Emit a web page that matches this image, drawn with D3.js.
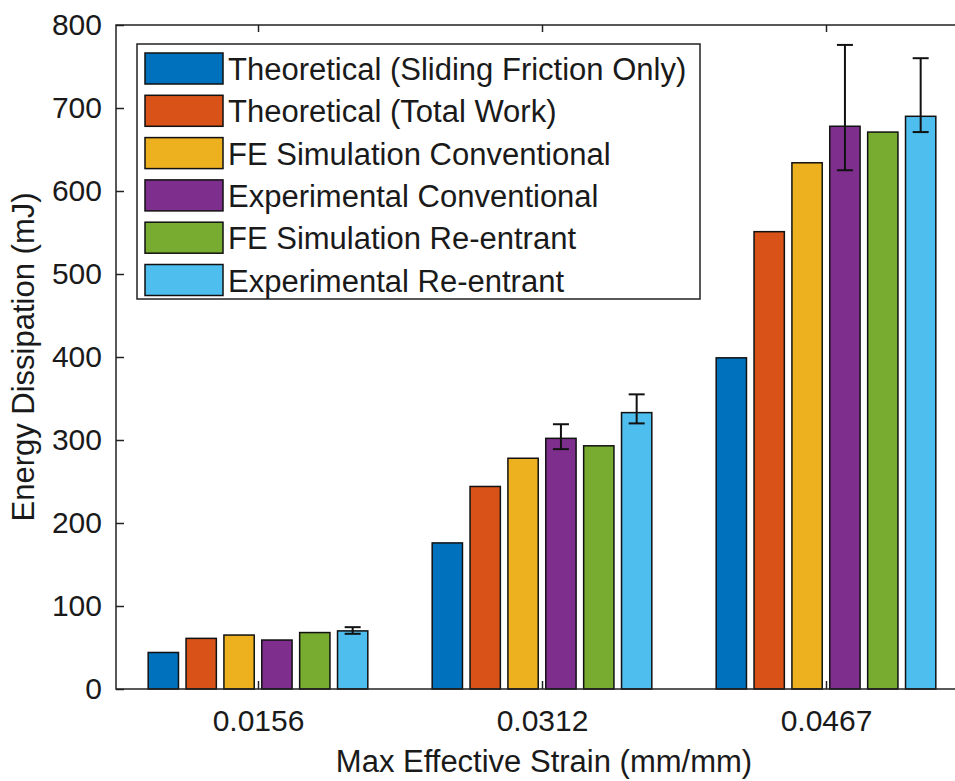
<!DOCTYPE html>
<html>
<head>
<meta charset="utf-8">
<script src="https://cdn.jsdelivr.net/npm/d3@7"></script>
<style>
  html, body { margin: 0; padding: 0; background: #fff; }
  svg { display: block; font-family: "Liberation Sans", Arial, Helvetica, sans-serif; }
</style>
</head>
<body>
<div id="chart-area"><svg></svg></div>
<script>
const strains = ["0.0156", "0.0312", "0.0467"];
const seriesNames = [
  "Theoretical (Sliding Friction Only)",
  "Theoretical (Total Work)",
  "FE Simulation Conventional",
  "Experimental Conventional",
  "FE Simulation Re-entrant",
  "Experimental Re-entrant"
];
const seriesColors = ["#0072BD", "#D95319", "#EDB120", "#7E2F8E", "#77AC30", "#4DBEEE"];

const theoreticalFriction = [44, 176, 399];
const theoreticalTotal = [61, 244, 551];
const feConventional = [65, 278, 634];
const expConventional = [59, 302, 678];
const feReentrant = [68, 293, 671];
const expReentrant = [70, 333, 690];

// error bars (minus / plus) for the experimental series
const expConventionalErrLow = [0, 13, 53];
const expConventionalErrHigh = [0, 17, 98];
const expReentrantErrLow = [3.5, 13, 19];
const expReentrantErrHigh = [4.5, 22, 70];

const yTicks = [0, 100, 200, 300, 400, 500, 600, 700, 800];

const chartSize = { width: 955, height: 781 };
const plot = { left: 116, right: 968, top: 25, bottom: 689 };

const seriesValues = [theoreticalFriction, theoreticalTotal, feConventional, expConventional, feReentrant, expReentrant];
const errors = {
  3: { low: expConventionalErrLow, high: expConventionalErrHigh },
  5: { low: expReentrantErrLow, high: expReentrantErrHigh }
};

const svg = d3.select("#chart-area svg")
  .attr("width", chartSize.width)
  .attr("height", chartSize.height);

const x = d3.scaleLinear().domain([0.5, 3.5]).range([plot.left, plot.right]);
const unit = x(1) - x(0);
const inner = d3.scaleBand()
  .domain(d3.range(seriesNames.length))
  .range([-0.4 * unit, 0.4 * unit])
  .paddingInner(0.2)
  .paddingOuter(0.1);
const y = d3.scaleLinear().domain([0, 800]).range([plot.bottom, plot.top]);

// bars
const bars = [];
seriesValues.forEach((vals, s) => {
  vals.forEach((v, g) => bars.push({ s, g, v }));
});

svg.append("g").attr("class", "bars")
  .selectAll("rect")
  .data(bars)
  .enter()
  .append("rect")
  .attr("x", d => x(d.g + 1) + inner(d.s))
  .attr("y", d => y(d.v))
  .attr("width", inner.bandwidth())
  .attr("height", d => y(0) - y(d.v))
  .attr("fill", d => seriesColors[d.s])
  .attr("stroke", "#111")
  .attr("stroke-width", 1.5);

// error bars
const errData = [];
Object.keys(errors).forEach(k => {
  const s = +k;
  seriesValues[s].forEach((v, g) => {
    if (errors[s].low[g] || errors[s].high[g])
      errData.push({ s, g, lo: v - errors[s].low[g], hi: v + errors[s].high[g] });
  });
});
const eg = svg.append("g").attr("class", "errors")
  .attr("stroke", "#111").attr("stroke-width", 2).attr("fill", "none");
const cx = d => x(d.g + 1) + inner(d.s) + inner.bandwidth() / 2;
eg.selectAll(".stem").data(errData).enter().append("line")
  .attr("x1", cx).attr("x2", cx)
  .attr("y1", d => y(d.lo)).attr("y2", d => y(d.hi));
eg.selectAll(".capHi").data(errData).enter().append("line")
  .attr("x1", d => cx(d) - 8).attr("x2", d => cx(d) + 8)
  .attr("y1", d => y(d.hi)).attr("y2", d => y(d.hi));
eg.selectAll(".capLo").data(errData).enter().append("line")
  .attr("x1", d => cx(d) - 8).attr("x2", d => cx(d) + 8)
  .attr("y1", d => y(d.lo)).attr("y2", d => y(d.lo));

// axes
const xTickPos = strains.map((s, i) => i + 1);
const yAxis = d3.axisLeft(y).tickValues(yTicks).tickSize(-8).tickPadding(14);
const xAxis = d3.axisBottom(x).tickValues(xTickPos).tickFormat((d, i) => strains[i]).tickSize(-8).tickPadding(21);
const xTop = d3.axisTop(x).tickValues(xTickPos).tickFormat("").tickSize(-7);

const gy = svg.append("g").attr("transform", `translate(${plot.left},0)`).call(yAxis);
const gx = svg.append("g").attr("transform", `translate(0,${plot.bottom})`).call(xAxis);
const gt = svg.append("g").attr("transform", `translate(0,${plot.top})`).call(xTop);
[gy, gx, gt].forEach(g => {
  g.select(".domain").remove();
  g.selectAll("line").attr("stroke", "#222").attr("stroke-width", 1.5);
  g.selectAll("text").attr("fill", "#1a1a1a").attr("font-size", 30).attr("font-family", null);
});

svg.append("rect")
  .attr("x", plot.left).attr("y", plot.top)
  .attr("width", plot.right - plot.left).attr("height", plot.bottom - plot.top)
  .attr("fill", "none").attr("stroke", "#222").attr("stroke-width", 1.5);

// axis labels
svg.append("text")
  .attr("x", (plot.left + plot.right) / 2 + 2)
  .attr("y", 772)
  .attr("text-anchor", "middle")
  .attr("font-size", 31)
  .attr("fill", "#1a1a1a")
  .text("Max Effective Strain (mm/mm)");

svg.append("text")
  .attr("transform", `translate(34,${(plot.top + plot.bottom) / 2}) rotate(-90)`)
  .attr("text-anchor", "middle")
  .attr("font-size", 31)
  .attr("fill", "#1a1a1a")
  .text("Energy Dissipation (mJ)");

// legend
const legend = svg.append("g").attr("class", "legend");
legend.append("rect")
  .attr("x", 137).attr("y", 44).attr("width", 563).attr("height", 255)
  .attr("fill", "#fff").attr("stroke", "#222").attr("stroke-width", 1.5);
const rows = legend.selectAll(".row").data(seriesNames).enter().append("g")
  .attr("transform", (d, i) => `translate(145,${53 + i * 42.3})`);
rows.append("rect")
  .attr("width", 78).attr("height", 31)
  .attr("fill", (d, i) => seriesColors[i])
  .attr("stroke", "#111").attr("stroke-width", 1.5);
rows.append("text")
  .attr("x", 83).attr("y", 27)
  .attr("font-size", 31)
  .attr("fill", "#1a1a1a")
  .text(d => d);
</script>
</body>
</html>
